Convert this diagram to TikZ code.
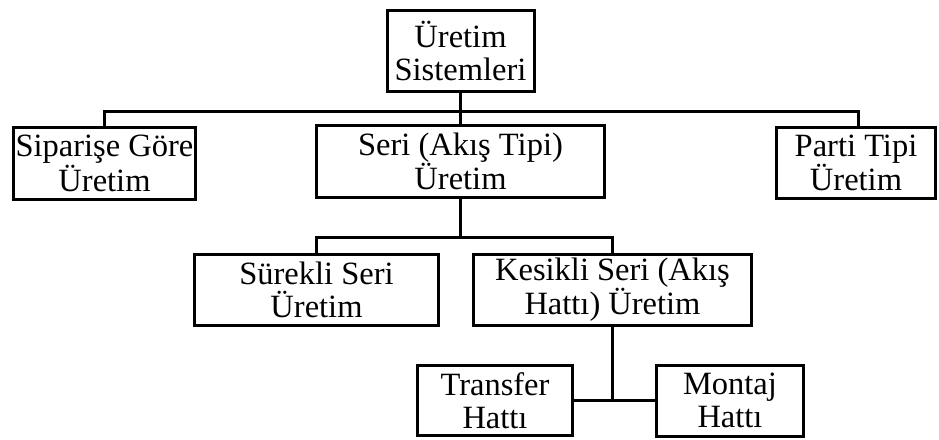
\documentclass[tikz,border=0pt]{standalone}
\usepackage{fontspec}
\setmainfont{Liberation Serif}
\begin{document}
\begin{tikzpicture}[x=1pt, y=-1pt,
  box/.style={draw, line width=3pt, align=center, inner sep=0pt,
              font=\fontsize{32.5}{32.5}\selectfont},
  link/.style={line width=3pt}]
\useasboundingbox (0,0) rectangle (939,439);

% level 0
\node[box, minimum width=147pt, minimum height=81pt] (top) at (460.5,51) {Üretim\\Sistemleri};

% level 1
\node[box, minimum width=182pt, minimum height=72pt] (sip)   at (104.5,163.5) {Siparişe Göre\\Üretim};
\node[box, minimum width=288pt, minimum height=72pt] (seri)  at (460.5,161.5) {Seri (Akış Tipi)\\Üretim};
\node[box, minimum width=159pt, minimum height=71pt] (parti) at (856,163) {Parti Tipi\\Üretim};

% level 2
\node[box, minimum width=244pt, minimum height=71pt] (sur) at (316.5,290) {Sürekli Seri\\Üretim};
\node[box, minimum width=278pt, minimum height=71pt] (kes) at (612.5,290) {Kesikli Seri (Akış\\Hattı) Üretim};

% level 3
\node[box, minimum width=155pt, minimum height=70pt] (tra) at (495,400.5) {Transfer\\Hattı};
\node[box, minimum width=147pt, minimum height=71pt] (mon) at (730,400.5) {Montaj\\Hattı};

% connectors
\coordinate (j1) at (460.5,111);
\coordinate (j2) at (460.5,237);
\draw[link] (top.south) -- (seri.north);
\draw[link] (sip.north) |- (j1) -| ([xshift=2pt]parti.north);
\draw[link] (seri.south) -- (j2);
\draw[link] (sur.north) |- (j2) -| (kes.north);
\draw[link] (kes.south) -- (kes.south |- tra.east);
\draw[link] (tra.east) -- (mon.west);
\end{tikzpicture}
\end{document}
